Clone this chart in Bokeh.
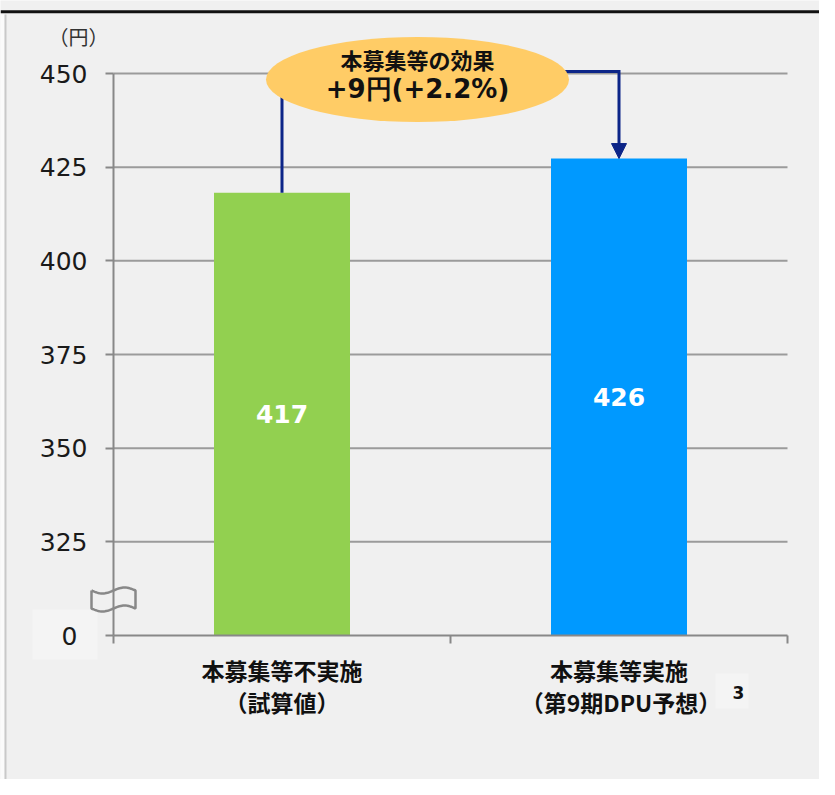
import numpy as np
from bokeh.plotting import figure
from bokeh.models import (Range1d, LinearAxis, FixedTicker, Arrow, NormalHead,
                          Span, ColumnDataSource)
from bokeh.core.properties import value
from bokeh.embed import file_html
from bokeh.resources import INLINE

# ---------------- data ----------------
cat_line1 = ["本募集等不実施", "本募集等実施"]
cat_line2 = ["（試算値）", "（第9期DPU予想）"]
bar_values = [418.2, 427.3]          # bar tops as drawn
bar_labels = ["417", "426"]          # printed values
bar_colors = ["#92D050", "#0099FF"]
y_ticks = [300, 325, 350, 375, 400, 425, 450]
y_break_label = "0"                  # the 300 tick is shown as 0 (axis break)
effect_line1 = "本募集等の効果"
effect_line2 = "+9円(+2.2%)"
unit_label = "（円）"
footnote = "3"

# ---------------- layout helpers ----------------
W, H = 819, 779
BG = "#f0f0f0"
NAVY = "#0c2588"
GRID = "#9b9b9b"
AXIS = "#888888"
PXX = 1.0 / 337.0           # data units per pixel (x)
PXY = 150.0 / 562.0         # data units per pixel (y)
X0, X1 = -113 * PXX, 2 + (W - 787) * PXX
Y1, Y0 = 450 + 73 * PXY, 300 - (H - 635) * PXY
BASE = y_ticks[0]
xs = [0.5, 1.5]
bar_w = 136 * PXX

JP = value("Noto Sans CJK JP")
LAT = value("DejaVu Sans")

p = figure(width=W, height=H, x_range=Range1d(X0, X1), y_range=Range1d(Y0, Y1),
           x_axis_type=None, y_axis_type=None, toolbar_location=None,
           output_backend="svg", min_border=0, background_fill_color=BG,
           border_fill_color=BG, outline_line_color=None)

# left page strip and border
p.quad(left=[X0], right=[X0 + 4 * PXX], top=[Y1 - 14 * PXY], bottom=[Y0],
       fill_color="#fbfbfb", line_color=None)
p.segment(x0=[X0 + 5 * PXX], x1=[X0 + 5 * PXX], y0=[Y1 - 14 * PXY], y1=[Y0],
          line_color="#c9c9c9", line_width=2)

# top rule
p.add_layout(Span(location=Y1 - 11.3 * PXY, dimension="width",
                  line_color="#111111", line_width=3))

# light boxes behind "0" and footnote
p.quad(left=[-81 * PXX, 1 + (715 - 450) * PXX], right=[-16 * PXX, 1 + (748 - 450) * PXX],
       top=[BASE - (609 - 635) * PXY, BASE - (673 - 635) * PXY],
       bottom=[BASE - (659 - 635) * PXY, BASE - (708 - 635) * PXY],
       fill_color="#f4f4f4", line_color=None)

# gridlines (from axis to right end)
gy = y_ticks[1:]
p.segment(x0=[0] * len(gy), x1=[2] * len(gy), y0=gy, y1=gy,
          line_color=GRID, line_width=2)

# bars
src = ColumnDataSource(dict(x=xs, top=bar_values, color=bar_colors,
                            label=bar_labels,
                            mid=[(BASE + v) / 2 for v in bar_values]))
p.vbar(x="x", width=bar_w, bottom=BASE, top="top", fill_color="color",
       line_color=None, source=src)
p.text(x="x", y="mid", text="label", source=src, text_color="white",
       text_font=LAT, text_font_style="bold", text_font_size="25px",
       text_align="center", text_baseline="middle")

# connector + arrow
level = 450 + 2 * PXY
p.line(x=[xs[0], xs[0], xs[1], xs[1]],
       y=[bar_values[0], level, level, bar_values[1] + 6 * PXY],
       line_color=NAVY, line_width=3, line_join="miter")
p.add_layout(Arrow(end=NormalHead(size=15, fill_color=NAVY, line_color=NAVY, line_width=1),
                   x_start=xs[1], y_start=bar_values[1] + 14 * PXY,
                   x_end=xs[1], y_end=bar_values[1],
                   line_color=NAVY, line_width=3))

# effect bubble
ex, ey = (417 - 113) * PXX, 450 - 6 * PXY
p.ellipse(x=[ex], y=[ey], width=[303 * PXX], height=[85 * PXY],
          fill_color="#FFCC66", line_color=None)
p.text(x=[ex], y=[450 + 15 * PXY], text=[effect_line1], text_font=JP,
       text_font_style="bold", text_font_size="22px", text_color="#111111",
       text_align="center", text_baseline="middle")
p.text(x=[ex], y=[450 - 15 * PXY], text=[effect_line2], text_font=LAT,
       text_font_style="bold", text_font_size="26px", text_color="#111111",
       text_align="center", text_baseline="middle")

# break marker on y axis
t = np.linspace(0, 1, 40)
wave = -3 * np.sin(2 * np.pi * t)
fx = (-22 + 44 * t) * PXX
top_edge = BASE + (635 - 590) * PXY + wave * PXY
bot_edge = BASE + (635 - 608) * PXY + wave * PXY
px_ = list(fx) + list(fx[::-1]) + [fx[0]]
py_ = list(top_edge) + list(bot_edge[::-1]) + [top_edge[0]]
p.line(x=px_, y=py_, line_color=AXIS, line_width=2.5)

# axes
yaxis = LinearAxis(fixed_location=0, ticker=FixedTicker(ticks=y_ticks),
                   bounds=(BASE, 450), major_label_overrides={BASE: ""},
                   axis_line_color=AXIS, axis_line_width=2,
                   major_tick_line_color=AXIS, major_tick_line_width=2,
                   major_tick_out=8, major_tick_in=0, minor_tick_out=0, minor_tick_in=0,
                   major_label_standoff=18, major_label_text_font="DejaVu Sans",
                   major_label_text_font_size="25px", major_label_text_color="#1a1a1a")
p.add_layout(yaxis, "left")
xaxis = LinearAxis(fixed_location=BASE, ticker=FixedTicker(ticks=[0, 1, 2]),
                   bounds=(0, 2), major_label_overrides={0: "", 1: "", 2: ""},
                   axis_line_color=AXIS, axis_line_width=2,
                   major_tick_line_color=AXIS, major_tick_line_width=2,
                   major_tick_out=8, major_tick_in=0, minor_tick_out=0, minor_tick_in=0)
p.add_layout(xaxis, "below")

# "0" label at the break, unit label
p.text(x=[(69 - 113) * PXX], y=[BASE], text=[y_break_label], text_font=LAT,
       text_font_size="25px", text_color="#1a1a1a", text_align="center",
       text_baseline="middle")
p.text(x=[(78 - 113) * PXX], y=[450 + 37 * PXY], text=[unit_label], text_font=JP,
       text_font_size="20px", text_color="#333333", text_align="center",
       text_baseline="middle")

# category labels
p.text(x=xs, y=[BASE - 34 * PXY] * 2, text=cat_line1, text_font=JP,
       text_font_style="bold", text_font_size="23px", text_color="#111111",
       text_align="center", text_baseline="middle")
p.text(x=[xs[0], xs[1] + 2 * PXX], y=[BASE - 66 * PXY] * 2, text=cat_line2, text_font=JP,
       text_font_style="bold", text_font_size="23px", text_color="#111111",
       text_align="center", text_baseline="middle")
p.text(x=[1 + (738 - 450) * PXX], y=[BASE - 57 * PXY], text=[footnote], text_font=LAT,
       text_font_style="bold", text_font_size="17px", text_color="#111111",
       text_align="center", text_baseline="middle")

open("out.html", "w").write(file_html(p, INLINE))
